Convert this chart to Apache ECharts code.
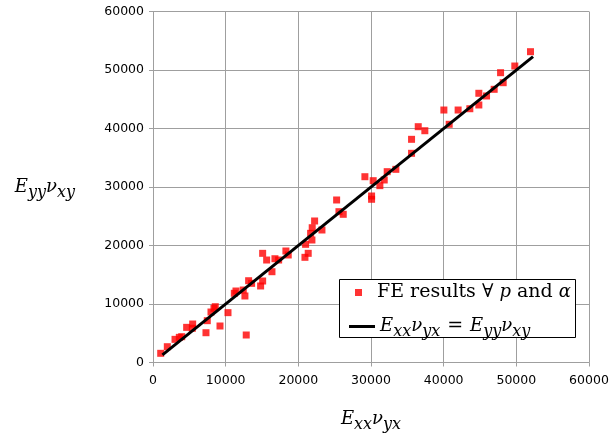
<!DOCTYPE html>
<html>
<head>
<meta charset="utf-8">
<script src="https://cdn.jsdelivr.net/npm/echarts@6/dist/echarts.min.js"></script>
<style>html,body{margin:0;padding:0;background:#fff;}#c{width:610px;height:438px;}</style>
</head>
<body>
<div id="c"></div>
<script>
const feX = [1060,1970,3030,3620,3950,4630,5460,5410,7290,7470,7980,8390,8570,9220,10320,11190,11420,12420,12650,12830,13160,13570,14810,15090,15090,15640,16370,16780,17290,18290,18610,20910,21360,21000,21870,21690,21910,22240,23250,25270,25590,26180,29160,30300,31220,31820,32230,33420,35580,35580,36500,37410,40030,40760,41990,43600,44840,44840,45900,46950,48190,47830,49790,51950,30080,30080];
const feY = [1570,2700,3960,4300,4410,6010,6580,5850,5090,7150,8630,9260,9540,6240,8520,11830,12220,12390,11370,4700,13980,13530,13080,13930,18660,17520,15520,17740,17520,19060,18380,17980,18660,20200,20940,22080,23040,24190,22650,27780,25780,25330,31760,31080,30230,31200,32620,33020,35760,38150,40310,39620,43160,40720,43160,43380,44020,46020,45560,46700,47830,49540,50680,53130,28460,27900];
const lineX = [1300, 52300];
const lineY = [1300, 52300];
const axisMin = 0, axisMax = 60000, axisStep = 10000;

const scatterData = feX.map((x, i) => [x, feY[i]]);
const lineData = lineX.map((x, i) => [x, lineY[i]]);

const serif = '"DejaVu Serif", "Liberation Serif", serif';
const richMath = {
  i: {fontFamily: serif, fontStyle: 'italic', fontSize: 18, color: '#000', lineHeight: 26},
  s: {fontFamily: serif, fontStyle: 'italic', fontSize: 16, color: '#000', lineHeight: 26, padding: [11, 0, 0, 0]},
  n: {fontFamily: serif, fontSize: 19, color: '#000', lineHeight: 26},
  n0: {fontFamily: serif, fontSize: 19, color: '#000', lineHeight: 26, padding: [0, 0, 0, 10]},
  e: {fontFamily: serif, fontSize: 19, color: '#000', lineHeight: 26, padding: [0, 7, 0, 7]}
};

const chart = echarts.init(document.getElementById('c'), null, {renderer: 'canvas'});
const gridColor = '#9f9f9f';
chart.setOption({
  animation: false,
  backgroundColor: '#fff',
  grid: {left: 153, right: 21, top: 11.5, bottom: 75.5, containLabel: false, outerBoundsMode: 'none'},
  xAxis: {
    type: 'value', min: axisMin, max: axisMax, interval: axisStep,
    axisLine: {show: true, lineStyle: {color: gridColor, width: 1}},
    axisTick: {show: true, length: 4, lineStyle: {color: gridColor}},
    splitLine: {show: true, lineStyle: {color: gridColor, width: 1}},
    axisLabel: {color: '#000', fontFamily: '"DejaVu Sans", sans-serif', fontSize: 12.5, margin: 12,
      formatter: v => String(v)},
    name: '{i|E}{s|xx}{i|ν}{s|yx}',
    nameLocation: 'middle', nameGap: 44,
    nameTextStyle: {rich: richMath}
  },
  yAxis: {
    type: 'value', min: axisMin, max: axisMax, interval: axisStep,
    axisLine: {show: true, lineStyle: {color: gridColor, width: 1}},
    axisTick: {show: true, length: 4, lineStyle: {color: gridColor}},
    splitLine: {show: true, lineStyle: {color: gridColor, width: 1}},
    axisLabel: {color: '#000', fontFamily: '"DejaVu Sans", sans-serif', fontSize: 12.5, margin: 9,
      formatter: v => String(v)},
    name: '{i|E}{s|yy}{i|ν}{s|xy}',
    nameLocation: 'middle', nameRotate: 0, nameGap: 78,
    nameTextStyle: {rich: richMath}
  },
  graphic: [{
    type: 'rect', shape: {x: 339.5, y: 279.5, width: 236, height: 58},
    style: {fill: '#fff', stroke: '#000', lineWidth: 1}, z: 5
  }],
  legend: [{
    data: [{name: 'FE', icon: 'rect'}],
    left: 355, top: 283, itemWidth: 7, itemHeight: 7, itemGap: 0,
    padding: 0, z: 10,
    formatter: () => '{n0|FE results ∀ }{i|p}{n| and }{i|α}',
    textStyle: {rich: richMath}
  }, {
    data: [{name: 'Eq', icon: 'rect'}],
    left: 349, top: 313, itemWidth: 26, itemHeight: 3, itemGap: 0,
    padding: 0, z: 10,
    formatter: () => '{i|E}{s|xx}{i|ν}{s|yx}{e|=}{i|E}{s|yy}{i|ν}{s|xy}',
    textStyle: {rich: richMath}
  }],
  series: [{
    name: 'FE', type: 'scatter', data: scatterData,
    symbol: 'rect', symbolSize: 7, itemStyle: {color: '#ff0000'}, z: 3
  }, {
    name: 'Eq', type: 'line', data: lineData, showSymbol: false, symbol: 'none',
    lineStyle: {color: '#000', width: 3}, itemStyle: {color: '#000'}, z: 4
  }]
});
</script>
</body>
</html>
